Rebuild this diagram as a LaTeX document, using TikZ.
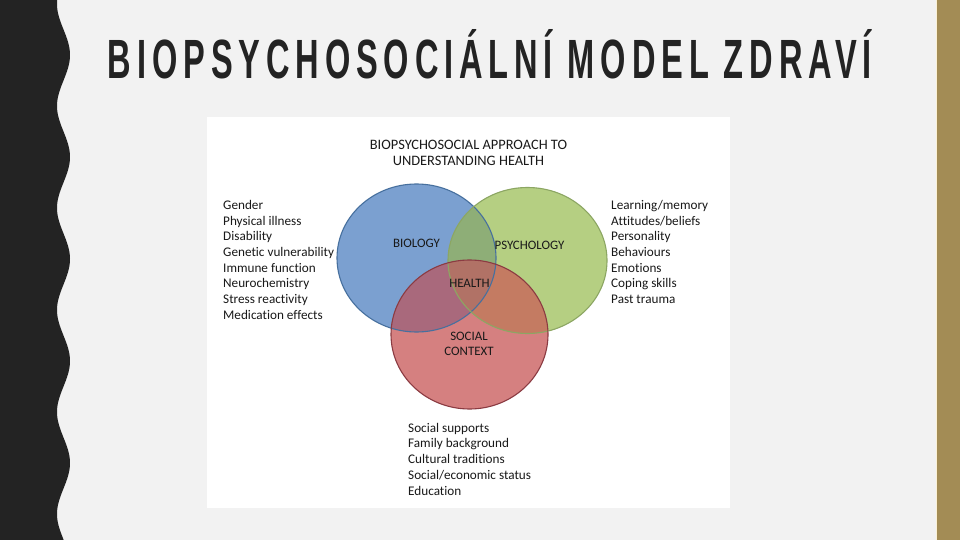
\documentclass[tikz,border=0pt]{standalone}
\usepackage{fontspec}
\setmainfont{Carlito}[Ligatures=NoCommon]
\newfontfamily\headfont{Liberation Sans}[LetterSpace=18]
\usepackage{tikz}

\definecolor{slidebg}{HTML}{F2F2F2}
\definecolor{stripdark}{HTML}{232323}
\definecolor{stripgold}{HTML}{A38C55}
\definecolor{stripline}{HTML}{FBF1D6}
\definecolor{bioblue}{HTML}{7BA0D0}
\definecolor{psygreen}{HTML}{B5CF82}
\definecolor{socred}{HTML}{D58080}
\definecolor{biopsy}{HTML}{8EAE77}
\definecolor{biosoc}{HTML}{A9697C}
\definecolor{psysoc}{HTML}{C47B62}
\definecolor{allthree}{HTML}{B17266}
\definecolor{bioline}{HTML}{47709E}
\definecolor{psyline}{HTML}{8CA663}
\definecolor{socline}{HTML}{8B3B42}

\begin{document}
\begin{tikzpicture}[x=1pt, y=-1pt,
	every node/.style={font=\fontsize{13.2}{15}\selectfont, text=black!90, inner sep=0pt},
	listitem/.style={anchor=base west},
	ringlabel/.style={anchor=base, font=\fontsize{12.9}{15}\selectfont},
	panelhead/.style={anchor=base, font=\fontsize{14.4}{16}\selectfont}]
	\useasboundingbox (0,0) rectangle (960,540);
	\fill[slidebg] (0,0) rectangle (960,540);
	% wavy dark strip on the left, gold strip on the right
	\fill[stripdark] (0,0) -- plot[domain=0:540, samples=220] ({63.5+6.5*cos(3.5294*(\x-55))}, \x) -- (0,540) -- cycle;
	\fill[stripgold] (936.5,0) rectangle (960,540);
	\draw[stripline, line width=1pt] (936,0) -- (936,540);
	\node[anchor=base, text=stripdark] (title) at (490,79) {\resizebox{764pt}{49pt}{\headfont\bfseries BIOPSYCHOSOCIÁLNÍ MODEL ZDRAVÍ}};
	% the picture panel
	\fill[white] (207,117) rectangle (730,508);
	\node[panelhead] (head1) at (468.5,149.5) {BIOPSYCHOSOCIAL APPROACH TO};
	\node[panelhead] (head2) at (468.5,166) {UNDERSTANDING HEALTH};
	\coordinate (bioc) at (416.5,258);
	\coordinate (psyc) at (527.5,260.5);
	\coordinate (socc) at (469.5,334.5);
	\fill[bioblue] (bioc) ellipse [x radius=79.5, y radius=74];
	\fill[psygreen] (psyc) ellipse [x radius=79.5, y radius=73];
	\fill[socred] (socc) ellipse [x radius=78.5, y radius=74.5];
	\begin{scope}
		\clip (bioc) ellipse [x radius=79.5, y radius=74];
		\fill[biopsy] (psyc) ellipse [x radius=79.5, y radius=73];
		\fill[biosoc] (socc) ellipse [x radius=78.5, y radius=74.5];
	\end{scope}
	\begin{scope}
		\clip (psyc) ellipse [x radius=79.5, y radius=73];
		\fill[psysoc] (socc) ellipse [x radius=78.5, y radius=74.5];
		\clip (bioc) ellipse [x radius=79.5, y radius=74];
		\fill[allthree] (socc) ellipse [x radius=78.5, y radius=74.5];
	\end{scope}
	\draw[bioline, line width=1.1pt] (bioc) ellipse [x radius=79.5, y radius=74];
	\draw[psyline, line width=1.1pt] (psyc) ellipse [x radius=79.5, y radius=73];
	\draw[socline, line width=1.1pt] (socc) ellipse [x radius=78.5, y radius=74.5];
	\node[ringlabel] (biology) at (416.5,247.5) {BIOLOGY};
	\node[ringlabel] (psychology) at (529.5,249.5) {PSYCHOLOGY};
	\node[ringlabel] (health) at (469.5,287) {HEALTH};
	\node[ringlabel] (social) at (469,340) {SOCIAL};
	\node[ringlabel] (context) at (469,355.5) {CONTEXT};
	% factor lists
	\foreach \item [count=\i] in {Gender, Physical illness, Disability, Genetic vulnerability, Immune function, Neurochemistry, Stress reactivity, Medication effects}
		\node[listitem] (bio\i) at (223,{209.5+15.67*(\i-1)}) {\item};
	\foreach \item [count=\i] in {Learning/memory, Attitudes/beliefs, Personality, Behaviours, Emotions, Coping skills, Past trauma}
		\node[listitem] (psy\i) at (611,{209.5+15.67*(\i-1)}) {\item};
	\foreach \item [count=\i] in {Social supports, Family background, Cultural traditions, Social/economic status, Education}
		\node[listitem] (soc\i) at (408,{432+15.75*(\i-1)}) {\item};
\end{tikzpicture}
\end{document}
